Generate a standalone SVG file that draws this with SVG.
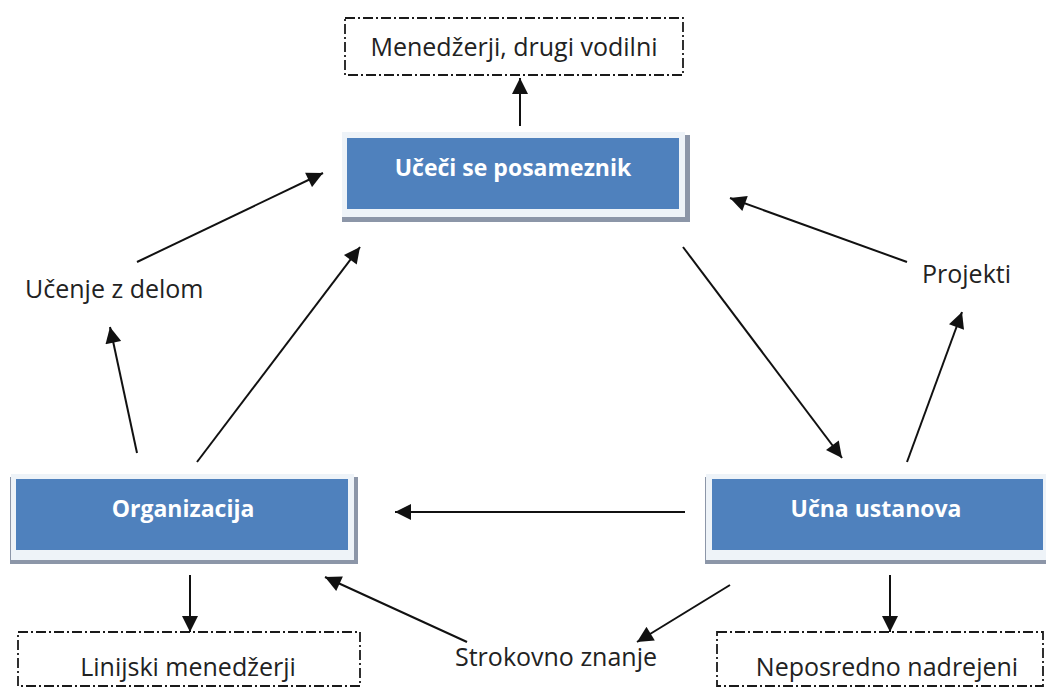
<svg xmlns="http://www.w3.org/2000/svg" width="1046" height="688" viewBox="0 0 1046 688">
<defs>
<style>
.lbl{font-family:"Open Sans","Liberation Sans",sans-serif;font-size:25px;fill:#222}
.btxt{font-family:"Open Sans","Liberation Sans",sans-serif;font-size:23px;font-weight:bold;fill:#ffffff;text-anchor:middle}
.dash{fill:#ffffff;stroke:#1a1a1a;stroke-width:1.8;stroke-dasharray:10 3 2 3}
.shadow{fill:#8c96a8}
.light{fill:#eef3f8}
.blue{fill:#4f81bd}
.conn line{stroke:#111;stroke-width:2;marker-end:url(#ah)}
</style>
<marker id="ah" viewBox="0 0 10 10" refX="10" refY="5" markerWidth="9" markerHeight="8" markerUnits="strokeWidth" orient="auto">
<path d="M0,0 L10,5 L0,10 z" fill="#111"/>
</marker>
</defs>
<rect width="1046" height="688" fill="#ffffff"/>

<g id="menedzerji">
<rect class="dash" x="345" y="18" width="338" height="57"/>
<text class="lbl" x="514" y="56" text-anchor="middle">Menedžerji, drugi vodilni</text>
</g>

<g id="ucecise">
<rect class="shadow" x="342" y="135" width="348" height="87"/>
<rect class="light" x="342" y="132" width="343" height="85"/>
<rect class="blue" x="347" y="138" width="332" height="71"/>
<text class="btxt" x="513" y="176">Učeči se posameznik</text>
</g>

<g id="organizacija">
<rect class="shadow" x="10" y="477" width="348" height="87"/>
<rect class="light" x="11" y="474" width="343" height="86"/>
<rect class="blue" x="16" y="479" width="332" height="71"/>
<text class="btxt" x="183" y="517">Organizacija</text>
</g>

<g id="ucnaustanova">
<rect class="shadow" x="705" y="477" width="348" height="87"/>
<rect class="light" x="706" y="474" width="343" height="86"/>
<rect class="blue" x="712" y="479" width="331" height="71"/>
<text class="btxt" x="876" y="517">Učna ustanova</text>
</g>

<g id="linijski">
<rect class="dash" x="18" y="632" width="342" height="54"/>
<text class="lbl" x="188" y="676" text-anchor="middle">Linijski menedžerji</text>
</g>

<g id="neposredno">
<rect class="dash" x="717" y="632" width="326" height="54"/>
<text class="lbl" x="887" y="676" text-anchor="middle">Neposredno nadrejeni</text>
</g>

<g id="ucenje">
<text class="lbl" x="25" y="298">Učenje z delom</text>
</g>
<g id="projekti">
<text class="lbl" x="922" y="283">Projekti</text>
</g>
<g id="strokovno">
<text class="lbl" x="455" y="666">Strokovno znanje</text>
</g>

<g id="connectors" class="conn">
<line x1="520" y1="126" x2="520" y2="78"/>
<line x1="137" y1="262" x2="323" y2="173"/>
<line x1="137" y1="453" x2="110" y2="327"/>
<line x1="197" y1="462" x2="360" y2="247"/>
<line x1="683" y1="247" x2="842" y2="458"/>
<line x1="907" y1="462" x2="962" y2="312"/>
<line x1="907" y1="262" x2="730" y2="198"/>
<line x1="685" y1="512" x2="395" y2="512"/>
<line x1="190" y1="575" x2="190" y2="632"/>
<line x1="890" y1="575" x2="890" y2="632"/>
<line x1="730" y1="585" x2="637" y2="642"/>
<line x1="467" y1="642" x2="325" y2="577"/>
</g>
</svg>
